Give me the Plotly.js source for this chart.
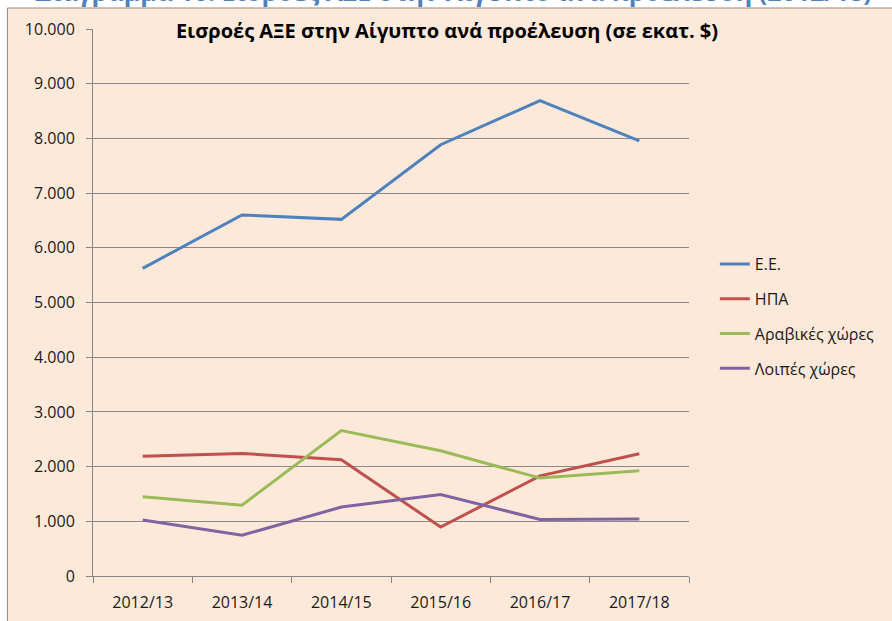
<!DOCTYPE html>
<html>
<head>
<meta charset="utf-8">
<script src="https://cdn.plot.ly/plotly-3.0.1.min.js"></script>
<style>
  html, body { margin: 0; padding: 0; background: #ffffff; }
  #chart { width: 892px; height: 621px; }
</style>
</head>
<body>
<div id="chart"></div>
<script>
const categories = ["2012/13", "2013/14", "2014/15", "2015/16", "2016/17", "2017/18"];
const seriesNames = ["Ε.Ε.", "ΗΠΑ", "Αραβικές χώρες", "Λοιπές χώρες"];
const euValues = [5625, 6600, 6520, 7885, 8690, 7955];
const usaValues = [2190, 2240, 2125, 895, 1830, 2235];
const arabValues = [1450, 1295, 2660, 2290, 1790, 1925];
const otherValues = [1025, 745, 1260, 1490, 1035, 1040];
const seriesColors = ["#4F81BD", "#C0504D", "#9BBB59", "#8064A2"];
const chartTitle = "Εισροές ΑΞΕ στην Αίγυπτο ανά προέλευση (σε εκατ. $)";
const headingText = "Διάγραμμα 10: Εισροές ΑΞΕ στην Αίγυπτο ανά προέλευση (2012/18)";

const FONT = "'Open Sans', 'Noto Sans', sans-serif";
const allValues = [euValues, usaValues, arabValues, otherValues];

const traces = allValues.map((vals, i) => ({
  type: "scatter",
  mode: "lines",
  name: seriesNames[i],
  x: categories,
  y: vals,
  line: { color: seriesColors[i], width: 3 },
  legendgroup: "g" + i,
  hoverinfo: "x+y+name"
}));

const W = 892, H = 621, L = 93, R = 200, T = 29, B = 45;
const pw = W - L - R, ph = H - T - B;
const px2fx = (px) => (px - L) / pw;
const py2fy = (py) => (H - B - py) / ph;

const layout = {
  width: W,
  height: H,
  margin: { l: L, r: R, t: T, b: B },
  paper_bgcolor: "#ffffff",
  plot_bgcolor: "#EBF1DE",
  separators: ",.",
  font: { family: FONT, size: 16, color: "#1a1a1a" },
  showlegend: true,
  title: {
    text: "<b>" + chartTitle + "</b>",
    font: { family: FONT, size: 20, color: "#000000" },
    x: 447 / W,
    xanchor: "center",
    y: 1 - 31 / H,
    yanchor: "middle"
  },
  xaxis: {
    type: "category",
    range: [-0.5, categories.length - 0.5],
    showgrid: false,
    showline: true,
    linecolor: "#868686",
    linewidth: 1,
    ticks: "outside",
    ticklen: 6,
    tickcolor: "#868686",
    tickson: "boundaries",
    tickfont: { family: FONT, size: 16, color: "#1a1a1a" },
    ticklabelstandoff: 12,
    zeroline: false,
    fixedrange: true
  },
  yaxis: {
    range: [0, 10000],
    dtick: 1000,
    tick0: 0,
    tickformat: ",d",
    showgrid: true,
    gridcolor: "#8a8a8a",
    gridwidth: 1,
    showline: true,
    linecolor: "#868686",
    linewidth: 1,
    ticks: "outside",
    ticklen: 6,
    tickcolor: "#868686",
    tickfont: { family: FONT, size: 16, color: "#1a1a1a" },
    ticklabelstandoff: 8,
    zeroline: false,
    fixedrange: true
  },
  legend: {
    x: px2fx(718),
    xanchor: "left",
    y: py2fy(247),
    yanchor: "top",
    bgcolor: "rgba(0,0,0,0)",
    font: { family: FONT, size: 16, color: "#1a1a1a" },
    traceorder: "grouped",
    tracegroupgap: 11,
    itemwidth: 30
  },
  shapes: [
    {
      type: "rect",
      xref: "paper",
      yref: "paper",
      x0: px2fx(7),
      x1: px2fx(W + 20),
      y0: py2fy(H + 20),
      y1: py2fy(8),
      fillcolor: "#FDE9D9",
      line: { color: "#8c8c8c", width: 1 },
      layer: "below"
    }
  ],
  annotations: [
    {
      text: "<b>" + headingText + "</b>",
      xref: "paper",
      yref: "paper",
      x: px2fx(455),
      y: py2fy(-9),
      xanchor: "center",
      yanchor: "middle",
      showarrow: false,
      font: { family: FONT, size: 25, color: "#4F81BD" }
    }
  ]
};

Plotly.newPlot("chart", traces, layout, { displayModeBar: false, staticPlot: true });
</script>
</body>
</html>
